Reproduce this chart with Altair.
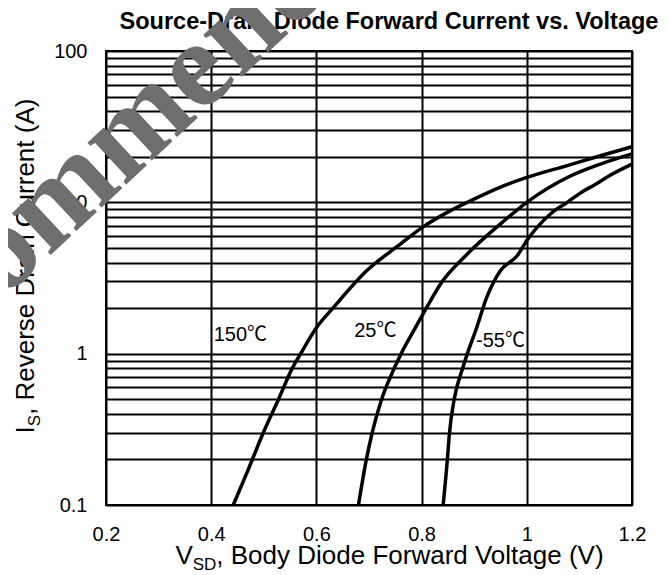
import altair as alt
import pandas as pd

# ---- data ----
t150_v = [0.442, 0.470, 0.499, 0.528, 0.554, 0.570, 0.601, 0.633, 0.696, 0.760, 0.800, 0.855, 0.887, 0.950, 1.000, 1.077, 1.140, 1.200]
t150_i = [0.1, 0.17, 0.3, 0.5, 0.8, 1.0, 1.5, 2.03, 3.54, 5.31, 6.78, 8.81, 10.0, 12.6, 14.6, 17.5, 20.3, 23.3]

t25_v = [0.680, 0.695, 0.706, 0.724, 0.748, 0.761, 0.788, 0.810, 0.836, 0.887, 0.950, 1.000, 1.077, 1.140, 1.200]
t25_i = [0.1, 0.2, 0.3, 0.5, 0.8, 1.0, 1.48, 2.03, 2.89, 4.56, 7.2, 10.0, 14.6, 17.9, 20.9]

tm55_v = [0.841, 0.849, 0.853, 0.862, 0.878, 0.887, 0.904, 0.924, 0.950, 0.982, 1.000, 1.045, 1.077, 1.108, 1.127, 1.160, 1.200]
tm55_i = [0.1, 0.2, 0.3, 0.5, 0.8, 1.0, 1.46, 2.36, 3.54, 4.45, 5.59, 8.38, 10.0, 11.9, 12.9, 15.2, 17.9]

series_names = ["150℃", "25℃", "-55℃"]
label_v = [0.4555, 0.712, 0.95]
label_i = [1.32, 1.42, 1.22]

x_ticks = [0.2, 0.4, 0.6, 0.8, 1.0, 1.2]
y_ticks = [0.1, 0.2, 0.3, 0.4, 0.5, 0.6, 0.7, 0.8, 0.9,
           1, 2, 3, 4, 5, 6, 7, 8, 9,
           10, 20, 30, 40, 50, 60, 70, 80, 90, 100]

title_text = "Source-Drain Diode Forward Current vs. Voltage"
x_title_parts = ["V", "SD", ", Body Diode Forward Voltage (V)"]
y_title_parts = ["I", "S", ", Reverse Drain Current (A)"]
watermark_text = "Recommended"

FONT = "Liberation Sans, Arial, Noto Sans CJK SC"

rows = []
for name, vs, cs in zip(series_names, [t150_v, t25_v, tm55_v], [t150_i, t25_i, tm55_i]):
    for v, c in zip(vs, cs):
        rows.append({"series": name, "V": v, "I": c})
df = pd.DataFrame(rows)
lab = pd.DataFrame({"text": series_names, "V": label_v, "I": label_i})

xscale = alt.Scale(domain=[0.2, 1.2], nice=False, zero=False)
yscale = alt.Scale(type="log", domain=[0.1, 100], nice=False)

xaxis = alt.Axis(values=x_ticks, format="~g", grid=True, gridColor="black", gridWidth=2,
                 gridOpacity=1, domain=False, ticks=False, labelPadding=19, labelFontSize=20,
                 labelFont=FONT, labelColor="black", title=None, labelFlush=False)
yaxis = alt.Axis(values=y_ticks, format="~g",
                 labelExpr="(datum.value == 0.1 || datum.value == 1 || datum.value == 10 || datum.value == 100) ? datum.label : ''",
                 grid=True, gridColor="black", gridWidth=2, gridOpacity=1, domain=False, ticks=False,
                 labelPadding=19, labelFontSize=20, labelFont=FONT, labelColor="black", title=None,
                 labelFlush=False)

lines = alt.Chart(df).mark_line(color="black", strokeWidth=3.5, interpolate="monotone").encode(
    x=alt.X("V:Q", scale=xscale, axis=xaxis),
    y=alt.Y("I:Q", scale=yscale, axis=yaxis),
    detail="series:N",
)

labels = alt.Chart(lab).mark_text(font=FONT, fontSize=20, color="black", align="center",
                                  baseline="middle").encode(
    x=alt.X("V:Q", scale=xscale), y=alt.Y("I:Q", scale=yscale), text="text:N")

one = pd.DataFrame({"k": [0]})

def txt(s, x, y, size, angle=0, align="left", weight="normal", font=FONT, color="black"):
    return alt.Chart(one).mark_text(text=s, fontSize=size, angle=angle, align=align,
                                    baseline="alphabetic", fontWeight=weight, font=font,
                                    color=color).encode(x=alt.value(x), y=alt.value(y))

title = txt(title_text, 283, -22.5, 23.5, align="center", weight="bold")
xt = [txt(x_title_parts[0], 69.4, 512.5, 26),
      txt(x_title_parts[1], 86.7, 518.5, 17),
      txt(x_title_parts[2], 110.3, 512.5, 26)]
yt = [txt(y_title_parts[0], -71.6, 382.5, 26, angle=270),
      txt(y_title_parts[1], -65.6, 375.3, 17, angle=270),
      txt(y_title_parts[2], -71.6, 364.0, 26, angle=270)]
wm = txt(watermark_text, 38, 117, 124, angle=317, align="center", weight="bold",
         font="Liberation Serif, Times New Roman", color="#6e6e6e")

chart = alt.layer(lines, labels, title, *xt, *yt, wm).properties(
    width=526, height=454,
    autosize=alt.AutoSizeParams(type="none"),
    padding={"left": 98, "top": 43, "right": 28, "bottom": 66},
).configure_view(stroke="black", strokeWidth=2)

chart.save("out.html", embed_options={"renderer": "svg", "actions": False})
